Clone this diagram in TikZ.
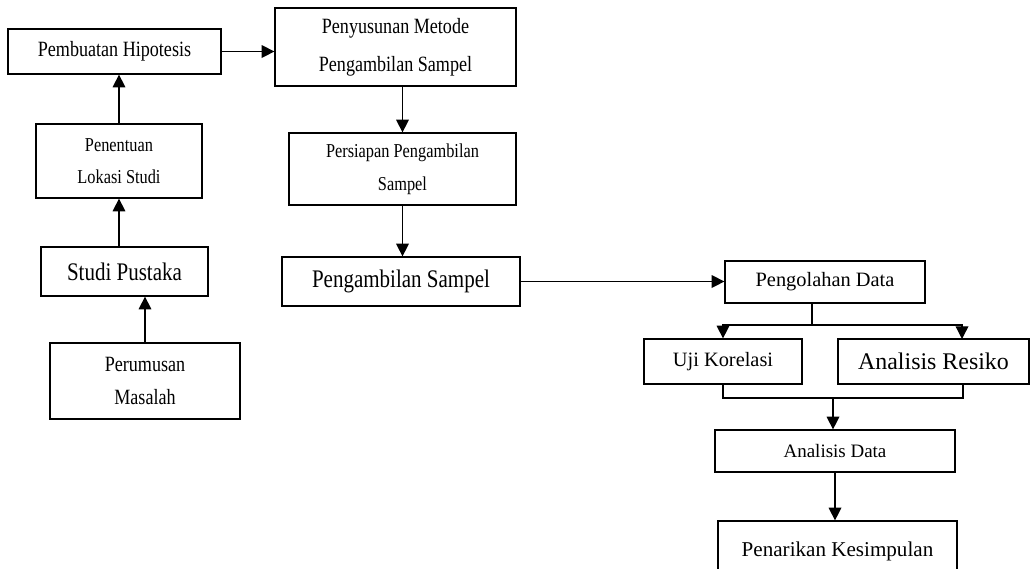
\documentclass[tikz,border=0pt]{standalone}
\usepackage{fontspec}
\setmainfont{Liberation Serif}
\newfontfamily\sempit[FakeStretch=0.83]{Liberation Serif}
\usetikzlibrary{arrows.meta}

\begin{document}
\begin{tikzpicture}[x=0.025cm,y=-0.025cm,line width=0.9pt,
        box/.style 2 args={draw,align=center,inner sep=0pt,minimum width=#1*0.025cm,minimum height=#2*0.025cm},
        arr/.style={-{Triangle[length=9pt,width=9pt]}}]
        \useasboundingbox (0,0) rectangle (1030,568);
        % left column, read from the bottom up
        \node[box={190}{76},font=\sempit\fontsize{15.5}{23}\selectfont] (masalah) at (145,381) {Perumusan\\Masalah};
        \node[box={167}{49},font=\sempit\fontsize{18}{20}\selectfont] (pustaka) at (124.5,271.5) {Studi Pustaka};
        \node[box={166}{74},font=\sempit\fontsize{14}{23}\selectfont] (lokasi) at (119,161) {Penentuan\\Lokasi Studi};
        \node[box={213}{45},font=\sempit\fontsize{15.5}{18}\selectfont] (hipo) at (114.5,51.5) {Pembuatan Hipotesis};
        % middle column
        \node[box={241}{78},font=\sempit\fontsize{15.5}{27}\selectfont] (metode) at (395.5,47) {Penyusunan Metode\\Pengambilan Sampel};
        \node[box={227}{72},font=\sempit\fontsize{14}{23.5}\selectfont] (persiapan) at (402.5,169) {Persiapan Pengambilan\\Sampel};
        \node[box={238}{49},font=\sempit\fontsize{18}{20}\selectfont] (sampel) at (401,281.5) {Pengambilan Sampel};
        % right column
        \node[box={200}{42},font=\fontsize{14.5}{17}\selectfont] (olah) at (825,282) {Pengolahan Data};
        \node[box={158}{45},font=\fontsize{14.5}{17}\selectfont] (uji) at (723,361.5) {Uji Korelasi};
        \node[box={191}{45},font=\fontsize{17}{20}\selectfont] (resiko) at (933.5,361.5) {Analisis Resiko};
        \node[box={240}{42},font=\fontsize{13.5}{16}\selectfont] (analisis) at (835,451) {Analisis Data};
        \node[box={239}{60},font=\fontsize{15}{18}\selectfont] (simpul) at (837.5,551) {Penarikan Kesimpulan};

        \draw[arr] (masalah.north) -- (masalah.north |- pustaka.south);
        \draw[arr] (pustaka.north -| lokasi.south) -- (lokasi.south);
        \draw[arr] (lokasi.north) -- (lokasi.north |- hipo.south);
        \draw[arr] (hipo.east) -- (hipo.east -| metode.west);
        \draw[arr] (persiapan.north |- metode.south) -- (persiapan.north);
        \draw[arr] (persiapan.south) -- (persiapan.south |- sampel.north);
        \draw[arr] (sampel.east) -- (sampel.east -| olah.west);
        % split into the two analyses, then join again
        \coordinate (pecah) at (812,325);
        \coordinate (masuk) at (962,339);
        \coordinate (gabung) at (833,398);
        \coordinate (resikobawah) at (963,384);
        \draw (olah.south -| pecah) -- (pecah);
        \draw[arr] (pecah) -| (uji.north);
        \draw[arr] (pecah) -| (masuk);
        \draw (uji.south) |- (gabung) -| (resikobawah);
        \draw[arr] (gabung) -- (gabung |- analisis.north);
        \draw[arr] (analisis.south) -- (analisis.south |- simpul.north);
    \end{tikzpicture}
\end{document}
